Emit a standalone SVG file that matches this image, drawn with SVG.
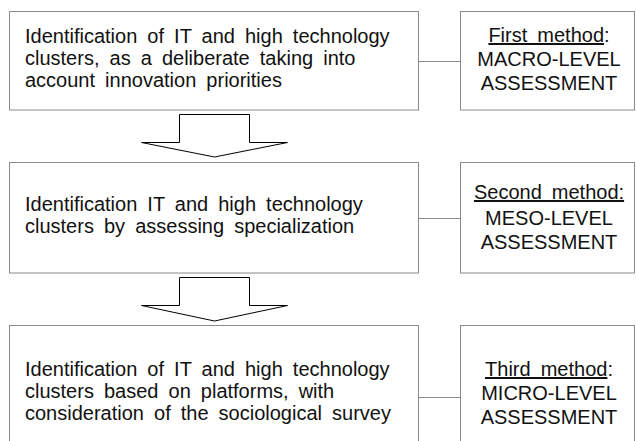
<svg xmlns="http://www.w3.org/2000/svg" width="636" height="441" viewBox="0 0 636 441">
<style>
.box{fill:#fff;stroke:#8a8a8a;stroke-width:1}
.conn{stroke:#8a8a8a;stroke-width:1;fill:none}
.arrow{fill:#fff;stroke:#000;stroke-width:1;stroke-linejoin:miter}
.t{font-family:"Liberation Sans",Arial,sans-serif;font-size:20px;fill:#111;word-spacing:4.5px}
.c{text-anchor:middle}
.u{text-decoration:underline}
</style>
<rect width="636" height="441" fill="#fff"/>
<g id="connectors">
<line class="conn" x1="419" y1="61.5" x2="460" y2="61.5"/>
<line class="conn" x1="419" y1="218.5" x2="460" y2="218.5"/>
<line class="conn" x1="419" y1="397.5" x2="460" y2="397.5"/>
<polygon class="arrow" points="179.5,114.5 249.5,114.5 249.5,142.5 287.5,142.5 214.5,157 141.5,142.5 179.5,142.5"/>
<polygon class="arrow" points="179.5,277.5 249.5,277.5 249.5,305.5 287.5,305.5 214.5,321 141.5,305.5 179.5,305.5"/>
</g>
<g id="step1">
<rect class="box" x="9.5" y="11.5" width="409" height="98.5"/>
<text class="t" x="25" y="43">Identification of IT and high technology</text>
<text class="t" x="25" y="65">clusters, as a deliberate taking into</text>
<text class="t" x="25" y="87">account innovation priorities</text>
</g>
<g id="method1">
<rect class="box" x="460.5" y="11.5" width="174" height="98.5"/>
<text class="t c" x="549" y="42"><tspan class="u">First method</tspan>:</text>
<text class="t c" x="549" y="66">MACRO-LEVEL</text>
<text class="t c" x="549" y="90">ASSESSMENT</text>
</g>
<g id="step2">
<rect class="box" x="9.5" y="162.5" width="409" height="110.5"/>
<text class="t" x="25" y="211">Identification IT and high technology</text>
<text class="t" x="25" y="233">clusters by assessing specialization</text>
</g>
<g id="method2">
<rect class="box" x="460.5" y="162.5" width="174" height="110.5"/>
<text class="t c u" x="549" y="199">Second method:</text>
<text class="t c" x="549" y="225">MESO-LEVEL</text>
<text class="t c" x="549" y="249">ASSESSMENT</text>
</g>
<g id="step3">
<rect class="box" x="9.5" y="325.5" width="409" height="140"/>
<text class="t" x="25" y="376">Identification of IT and high technology</text>
<text class="t" x="25" y="398">clusters based on platforms, with</text>
<text class="t" x="25" y="420">consideration of the sociological survey</text>
</g>
<g id="method3">
<rect class="box" x="460.5" y="325.5" width="174" height="140"/>
<text class="t c" x="549" y="376"><tspan class="u">Third method</tspan>:</text>
<text class="t c" x="549" y="400">MICRO-LEVEL</text>
<text class="t c" x="549" y="424">ASSESSMENT</text>
</g>
</svg>
